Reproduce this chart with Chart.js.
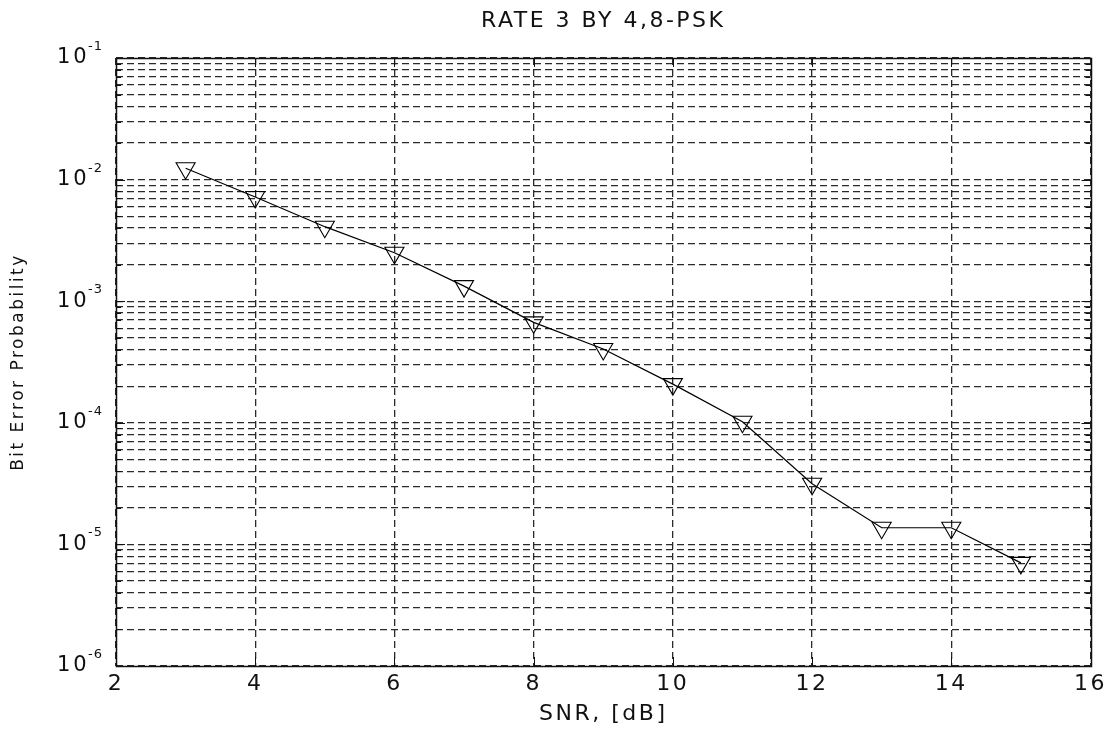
<!DOCTYPE html>
<html>
<head>
<meta charset="utf-8">
<script src="https://cdn.jsdelivr.net/npm/chart.js@4.4.1/dist/chart.umd.min.js"></script>
<style>
  html, body { margin: 0; padding: 0; background: #fff; }
  #wrap { width: 1112px; height: 732px; position: relative; }
</style>
</head>
<body>
<div id="wrap"><canvas id="c" width="1112" height="732"></canvas></div>
<script>
// ---- data ----
const chartTitle = 'RATE 3 BY 4,8-PSK';
const xAxisTitle = 'SNR, [dB]';
const yAxisTitle = 'Bit Error Probability';
const snrDb = [3, 4, 5, 6, 7, 8, 9, 10, 11, 12, 13, 14, 15];
const berValues = [0.0124, 0.0072, 0.0041, 0.0025, 0.00133, 0.00067, 0.000405, 0.000208, 0.000102, 0.0000315, 0.0000137, 0.0000137, 0.00000705];
const xTickValues = [2, 4, 6, 8, 10, 12, 14, 16];
const yDecadeExponents = [-6, -5, -4, -3, -2, -1];
const yMantissas = [1, 2, 3, 4, 5, 6, 7, 8, 9];

const FONT = '"DejaVu Sans", Verdana, sans-serif';
const INK = '#111';

const yTickValues = [];
yDecadeExponents.forEach((e, i) => {
  if (i === yDecadeExponents.length - 1) {
    yTickValues.push(Number(Math.pow(10, e).toPrecision(3)));
  } else {
    yMantissas.forEach(m => yTickValues.push(Number((m * Math.pow(10, e)).toPrecision(3))));
  }
});

const points = snrDb.map((x, i) => ({ x: x, y: berValues[i] }));

const spacingPlugin = {
  id: 'spacing',
  beforeLayout(chart) { chart.ctx.letterSpacing = '2.5px'; },
  beforeDraw(chart) { chart.ctx.letterSpacing = '2.5px'; }
};

const framePlugin = {
  id: 'frame',
  afterDraw(chart) {
    const ctx = chart.ctx;
    const a = chart.chartArea;
    const xs = chart.scales.x, ys = chart.scales.y;
    ctx.save();
    ctx.letterSpacing = '0px';
    ctx.strokeStyle = INK;
    ctx.lineWidth = 1;
    ctx.setLineDash([]);
    // inward ticks on x (bottom & top)
    ctx.beginPath();
    xs.ticks.forEach(t => {
      const px = Math.round(xs.getPixelForValue(t.value)) + 0.5;
      ctx.moveTo(px, a.bottom); ctx.lineTo(px, a.bottom - 9);
      ctx.moveTo(px, a.top); ctx.lineTo(px, a.top + 9);
    });
    // inward ticks on y (left & right)
    ys.ticks.forEach(t => {
      const py = Math.round(ys.getPixelForValue(t.value)) + 0.5;
      const lg = Math.log10(t.value);
      const major = Math.abs(lg - Math.round(lg)) < 1e-6;
      const len = major ? 9 : 5;
      ctx.moveTo(a.left, py); ctx.lineTo(a.left + len, py);
      ctx.moveTo(a.right, py); ctx.lineTo(a.right - len, py);
    });
    ctx.stroke();
    // frame
    ctx.lineWidth = 1.5;
    ctx.strokeRect(Math.round(a.left) + 0.5, Math.round(a.top) + 0.5, Math.round(a.right - a.left), Math.round(a.bottom - a.top));
    // y tick labels 10^e
    ctx.fillStyle = INK;
    yDecadeExponents.forEach(e => {
      const py = ys.getPixelForValue(Math.pow(10, e));
      ctx.font = '21px ' + FONT;
      ctx.letterSpacing = '3px';
      ctx.textAlign = 'left';
      ctx.textBaseline = 'middle';
      ctx.fillText('10', 57, py);
      ctx.font = '13px ' + FONT;
      ctx.letterSpacing = '1px';
      ctx.textBaseline = 'alphabetic';
      ctx.fillText(String(e), 88, py - 8);
    });
    ctx.restore();
  }
};

new Chart(document.getElementById('c'), {
  type: 'line',
  data: {
    datasets: [{
      data: points,
      borderColor: '#000',
      borderWidth: 1.2,
      pointStyle: 'triangle',
      pointRotation: 180,
      pointRadius: 11,
      pointBorderWidth: 1.1,
      pointBorderColor: '#000',
      pointBackgroundColor: 'rgba(0,0,0,0)',
      tension: 0,
      fill: false
    }]
  },
  options: {
    responsive: false,
    animation: false,
    events: [],
    layout: { padding: { left: 0, right: 19, top: 0, bottom: 0 } },
    plugins: {
      legend: { display: false },
      tooltip: { enabled: false },
      title: {
        display: true,
        text: chartTitle,
        fullSize: false,
        color: INK,
        font: { family: FONT, size: 22, weight: 'normal' },
        padding: { top: 8, bottom: 23.6 }
      }
    },
    scales: {
      x: {
        type: 'linear',
        min: 2,
        max: 16,
        afterBuildTicks: s => { s.ticks = xTickValues.map(v => ({ value: v })); },
        afterFit: s => { s.height = 66; },
        ticks: {
          color: INK,
          padding: 5,
          font: { family: FONT, size: 22 },
          maxRotation: 0
        },
        grid: { color: '#2a2a2a', lineWidth: 1.3, drawTicks: false },
        border: { display: false, dash: [7, 4] },
        title: {
          display: true,
          text: xAxisTitle,
          color: INK,
          font: { family: FONT, size: 22 },
          padding: { top: 0, bottom: 5 }
        }
      },
      y: {
        type: 'logarithmic',
        min: 1e-6,
        max: 1e-1,
        afterBuildTicks: s => { s.ticks = yTickValues.map(v => ({ value: v })); },
        afterFit: s => { s.width = 116; },
        ticks: { display: false },
        grid: { color: '#2a2a2a', lineWidth: 1.3, drawTicks: false },
        border: { display: false, dash: [7, 4] },
        title: {
          display: true,
          text: yAxisTitle,
          color: INK,
          font: { family: FONT, size: 17 },
          padding: { top: 8, bottom: 0 }
        }
      }
    }
  },
  plugins: [spacingPlugin, framePlugin]
});
</script>
</body>
</html>
